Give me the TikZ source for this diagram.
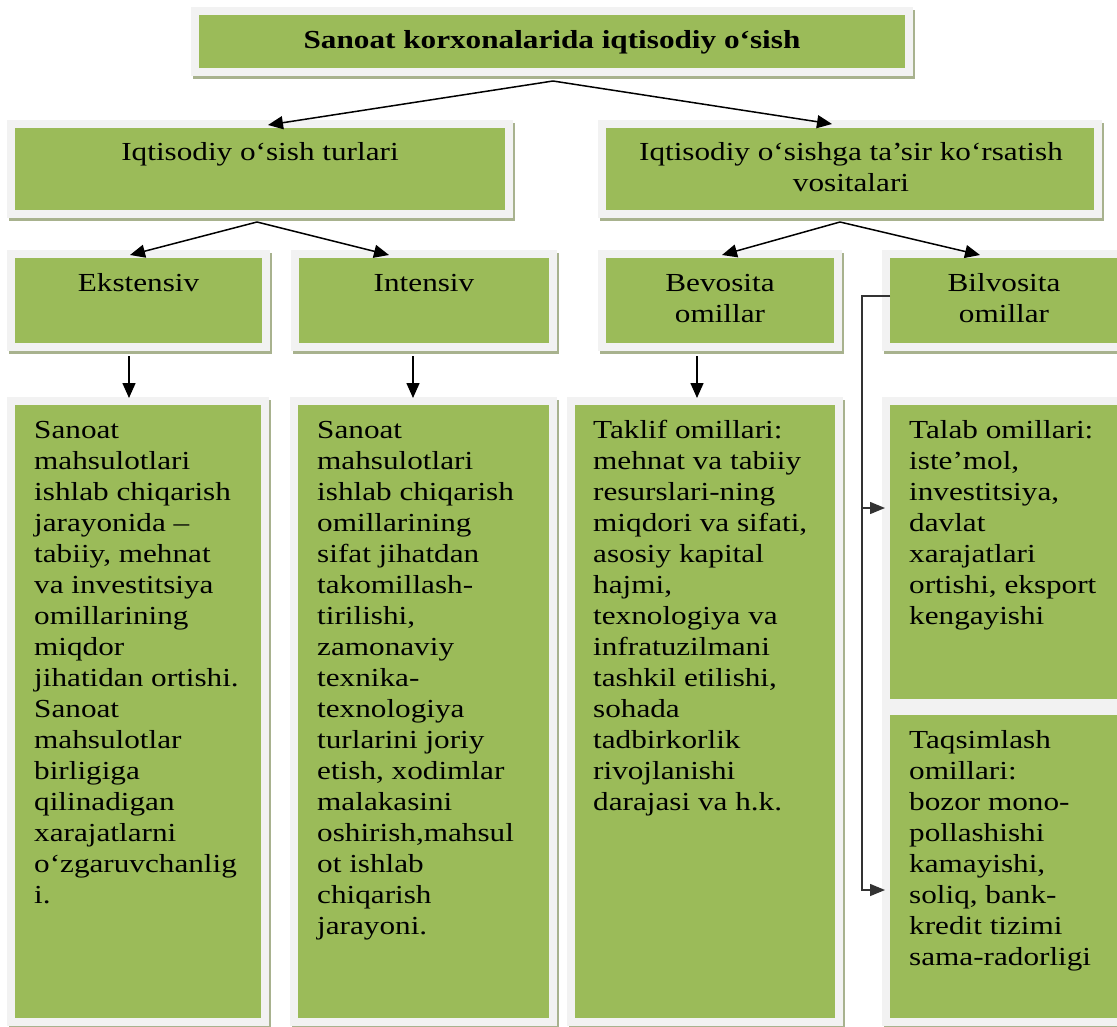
\documentclass[tikz,border=0pt]{standalone}
\usepackage{fontspec}
\setmainfont{Liberation Serif}[FakeStretch=1.2]
\usetikzlibrary{arrows.meta,calc,fit}
\definecolor{boxgreen}{HTML}{9BBB59}
\definecolor{boxframe}{HTML}{F2F2F2}
\definecolor{boxshadow}{RGB}{168,178,142}
\begin{document}
\begin{tikzpicture}[x=1pt,y=-1pt,
  gbox/.style={fill=boxgreen, draw=boxframe, line width=8pt, inner sep=4pt,
    preaction={draw=boxshadow, fill=boxshadow, line width=8pt,
      transform canvas={shift={(2pt,-3pt)}}}},
  lbl/.style={inner sep=0pt, text=black, font=\fontsize{26}{31}\selectfont},
  blbl/.style={lbl, font=\fontsize{26}{31}\selectfont\bfseries},
  link/.style={line width=1.5pt, black, -{Triangle[length=15pt,width=13pt]}},
  elbow/.style={line width=1.4pt, black!80, -{Triangle[length=15pt,width=12pt]}},
]
\useasboundingbox (0,0) rectangle (1117,1026);
\clip (0,0) rectangle (1117,1026);

% boxes (fit = green area)
\node[gbox, fit={(199,15) (905,68)}] (top) {};
\node[gbox, fit={(15,128) (505,210)}] (l2a) {};
\node[gbox, fit={(606,128) (1094,210)}] (l2b) {};
\node[gbox, fit={(15,258) (262,343)}] (ek) {};
\node[gbox, fit={(299,258) (549,343)}] (in) {};
\node[gbox, fit={(606,258) (834,343)}] (bev) {};
\node[gbox, fit={(890,258) (1118,343)}] (bil) {};
\node[gbox, fit={(15,405) (261,1018)}] (t1) {};
\node[gbox, fit={(298,405) (549,1018)}] (t2) {};
\node[gbox, fit={(575,405) (835,1018)}] (t3) {};
\node[gbox, fit={(890,405) (1118,699)}] (t4a) {};
\node[gbox, fit={(890,715) (1118,1018)}] (t4b) {};

% texts
\node[blbl, anchor=base] (toptxt) at (552,48) {Sanoat korxonalarida iqtisodiy o‘sish};
\node[lbl, anchor=base] (l2atxt) at (260,160) {Iqtisodiy o‘sish turlari};
\node[lbl, align=center, anchor=north] (l2btxt) at (851,138.3)
  {\strut Iqtisodiy o‘sishga ta’sir ko‘rsatish\\vositalari};
\node[lbl, anchor=base] (ektxt) at (138.5,291) {Ekstensiv};
\node[lbl, anchor=base] (intxt) at (424,291) {Intensiv};
\node[lbl, align=center, anchor=north] (bevtxt) at (720,269.3) {\strut Bevosita\\omillar};
\node[lbl, align=center, anchor=north] (biltxt) at (1004,269.3) {\strut Bilvosita\\omillar};

\node[lbl, align=left, anchor=north west] (t1txt) at (34,416.3)
  {\strut Sanoat\\mahsulotlari\\ishlab chiqarish\\jarayonida –\\tabiiy, mehnat\\va investitsiya\\omillarining\\miqdor\\jihatidan ortishi.\\Sanoat\\mahsulotlar\\birligiga\\qilinadigan\\xarajatlarni\\o‘zgaruvchanlig\\i.};
\node[lbl, align=left, anchor=north west] (t2txt) at (317,416.3)
  {\strut Sanoat\\mahsulotlari\\ishlab chiqarish\\omillarining\\sifat jihatdan\\takomillash-\\tirilishi,\\zamonaviy\\texnika-\\texnologiya\\turlarini joriy\\etish, xodimlar\\malakasini\\oshirish,mahsul\\ot ishlab\\chiqarish\\jarayoni.};
\node[lbl, align=left, anchor=north west] (t3txt) at (593,416.3)
  {\strut Taklif omillari:\\mehnat va tabiiy\\resurslari-ning\\miqdori va sifati,\\asosiy kapital\\hajmi,\\texnologiya va\\infratuzilmani\\tashkil etilishi,\\sohada\\tadbirkorlik\\rivojlanishi\\darajasi va h.k.};
\node[lbl, align=left, anchor=north west] (t4atxt) at (909,416.3)
  {\strut Talab omillari:\\iste’mol,\\investitsiya,\\davlat\\xarajatlari\\ortishi, eksport\\kengayishi};
\node[lbl, align=left, anchor=north west] (t4btxt) at (909,726.3)
  {\strut Taqsimlash\\omillari:\\bozor mono-\\pollashishi\\kamayishi,\\soliq, bank-\\kredit tizimi\\sama-radorligi};

% connectors
\draw[link] ($(top.south)+(1,5)$) -- ($(l2a.north)+(8,5)$);
\draw[link] ($(top.south)+(1,5)$) -- ($(l2b.north)+(-18,4)$);
\draw[link] ($(l2a.south)+(-3,4)$) -- ($(ek.north)+(-8.5,5)$);
\draw[link] ($(l2a.south)+(-3,4)$) -- ($(in.north)+(-35,5)$);
\draw[link] ($(l2b.south)+(-10,4)$) -- ($(bev.north)+(2,5)$);
\draw[link] ($(l2b.south)+(-10,4)$) -- ($(bil.north)+(-24,5)$);
\draw[link] ($(ek.south)+(-9.5,5)$) -- ($(t1.north)+(-9,1)$);
\draw[link] ($(in.south)+(-11,5)$) -- ($(t2.north)+(-10.5,1)$);
\draw[link] ($(bev.south)+(-23,5)$) -- ($(t3.north)+(-8,1)$);
\coordinate (split) at ($(t4a.west)+(-20,-44)$);
\draw[elbow] ($(bil.west)+(8,-4.5)$) -| ($(t4b.west)+(-20,23.5)$) -- ($(t4b.west)+(3,23.5)$);
\draw[elbow] (split) -- ($(t4a.west)+(3,-44)$);
\end{tikzpicture}
\end{document}
